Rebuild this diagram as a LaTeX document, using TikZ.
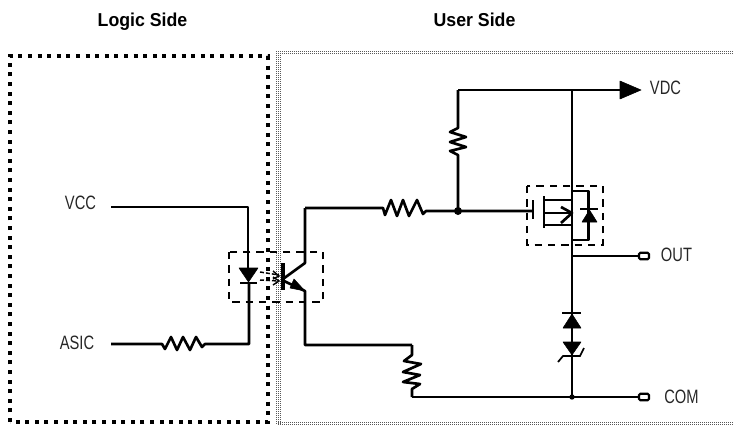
\documentclass[tikz,border=0pt]{standalone}
\usepackage{fontspec}
\setmainfont{Liberation Sans}
\usetikzlibrary{arrows.meta}
\tikzset{
  wire/.style={line width=2pt,black,line join=round},
  solid black/.style={fill=black,draw=black,line width=.4pt,line join=round},
  logicbox/.style={line width=3pt,dash pattern=on 3pt off 4.2pt},
  userdots/.style={line width=.75pt,dash pattern=on .75pt off .75pt,black!65},
  pkgbox/.style={line width=1.1pt,dash pattern=on 5.4pt off 4.6pt},
  term/.style={draw,line width=1.7pt,rounded corners=1pt,minimum width=7.5pt,minimum height=4.8pt,inner sep=0pt,fill=white},
  lbl/.style={font=\fontsize{14.5}{16}\selectfont,xscale=.76,inner sep=0pt,text=black!85},
  head/.style={font=\fontsize{14}{16}\selectfont\bfseries,xscale=.95,inner sep=0pt,anchor=base},
}
\begin{document}
\begin{tikzpicture}[x=.75pt,y=-.75pt]
\useasboundingbox (0,0) rectangle (733,425);
% headers
\node[head] (hl) at (142.5,26) {Logic Side};
\node[head] (hu) at (474.5,26) {User Side};
% logic side box
\draw[logicbox] (10,422) -- (10,56) -- (268,56) -- (268,422) -- cycle;
% user side box (fine dotted rows)
\foreach \d in {0,2}{
  \draw[userdots] (276,{51+\d}) -- (733,{51+\d});
  \draw[userdots] (278,{423+\d-1}) -- (733,{423+\d-1});
}
\foreach \d in {0,2,4}{
  \draw[userdots] ({276+\d},51) -- ({276+\d},424);
}
% package boxes
\draw[pkgbox] (229,252) rectangle (323,302);
\draw[pkgbox] (527,186) rectangle (603,245);
% terminals and labels
\node[term] (tout) at (644,256) {};
\node[term] (tcom) at (644,397) {};
\node[lbl] (lvdc) at (665.5,88) {VDC};
\node[lbl] (lout) at (676.5,255) {OUT};
\node[lbl] (lcom) at (681.5,397) {COM};
\node[lbl] (lvcc) at (80.5,203) {VCC};
\node[lbl] (lasic) at (77,343) {ASIC};
% coordinates
\coordinate (vcc) at (111,207);
\coordinate (asic) at (111,344);
\coordinate (ledtop) at (248,207);
\coordinate (ledbot) at (249,344);
\coordinate (coltop) at (305,208);
\coordinate (emitb) at (305,345);
\coordinate (rbt) at (412,345);
\coordinate (rbb) at (412,397);
\coordinate (j1) at (458,211);
\coordinate (j0) at (458,90);
\coordinate (mtop) at (572,90);
\coordinate (mbot) at (572,397);
\coordinate (mout) at (572,256);
% VCC / ASIC loop
\draw[wire] (vcc) -- (ledtop) -- (248,268);
\draw[wire] (asic) -- (162,344) -- (165,349) -- (171,337) -- (177,350) -- (183,337) -- (190,350) -- (196,337) -- (202,347) -- (205,344) -- (ledbot) -- (249,282);
% LED
\draw[solid black] (239,268) -- (258,268) -- (248.5,282) -- cycle;
\draw[wire] (240,283) -- (257,283);
% light arrows
\draw[line width=1.1pt,dash pattern=on 3pt off 1.5pt] (260,272) -- (279,275);
\draw[line width=1.1pt,dash pattern=on 3pt off 1.5pt] (260,280) -- (279,281);
\draw[line width=1.1pt] (273,271) -- (279,276) -- (273,279);
\draw[line width=1.1pt] (273,277) -- (279,281) -- (273,285);
% phototransistor
\draw[line width=2.4pt] (283,263) -- (283,290);
\draw[wire] (283,279) -- (305,263) -- (coltop);
\draw[wire] (284,281) -- (305,291) -- (emitb) -- (rbt);
\draw[solid black] (305,291) -- (294,279) -- (290,288) -- cycle;
% input resistor to junction
\draw[wire] (coltop) -- (383,208) -- (385,215) -- (391,200) -- (397,216) -- (403,200) -- (409,216) -- (417,200) -- (423,214) -- (426,211) -- (j1) -- (533,211);
% pull-up
\draw[wire] (j0) -- (458,128) -- (450,132) -- (466,137) -- (450,142) -- (466,147) -- (450,151) -- (458,155) -- (j1);
\fill (j1) circle (3pt);
% top rail
\draw[wire] (j0) -- (mtop) -- (625,90);
\draw[solid black] (620,81) -- (641,90) -- (620,99) -- cycle;
% main vertical
\draw[wire] (mtop) -- (mbot);
% mosfet
\draw[line width=2.2pt] (533,200) -- (533,219);
\draw[line width=2.2pt] (544,196) -- (544,228);
\draw[wire] (544,200) -- (572,200);
\draw[wire] (544,213) -- (572,213);
\draw[wire] (544,225) -- (572,225);
\draw[wire] (561,207) -- (572,213) -- (561,223);
% body diode loop
\draw[wire] (572,191) -- (588.5,191) -- (588.5,240) -- (572,240);
\draw[line width=1.3pt] (580,209) -- (598,209);
\draw[solid black] (582,222) -- (597,222) -- (589.5,210) -- cycle;
% out wire
\draw[wire] (mout) -- (tout);
% diode stack
\draw[line width=1.3pt] (562,313) -- (581,313);
\draw[solid black] (563,328) -- (581,328) -- (572,314) -- cycle;
\draw[solid black] (563,342) -- (581,342) -- (572,355) -- cycle;
\draw[line width=1.3pt] (558,362) -- (563,356) -- (580,356) -- (584,348);
% bottom resistor and COM wire
\draw[wire] (rbt) -- (412,355) -- (404,361) -- (421,364) -- (403,372) -- (420,375) -- (403,382) -- (420,384) -- (412,389) -- (rbb);
\draw[wire] (rbb) -- (mbot) -- (tcom);
\fill (mbot) circle (2pt);
\end{tikzpicture}
\end{document}
